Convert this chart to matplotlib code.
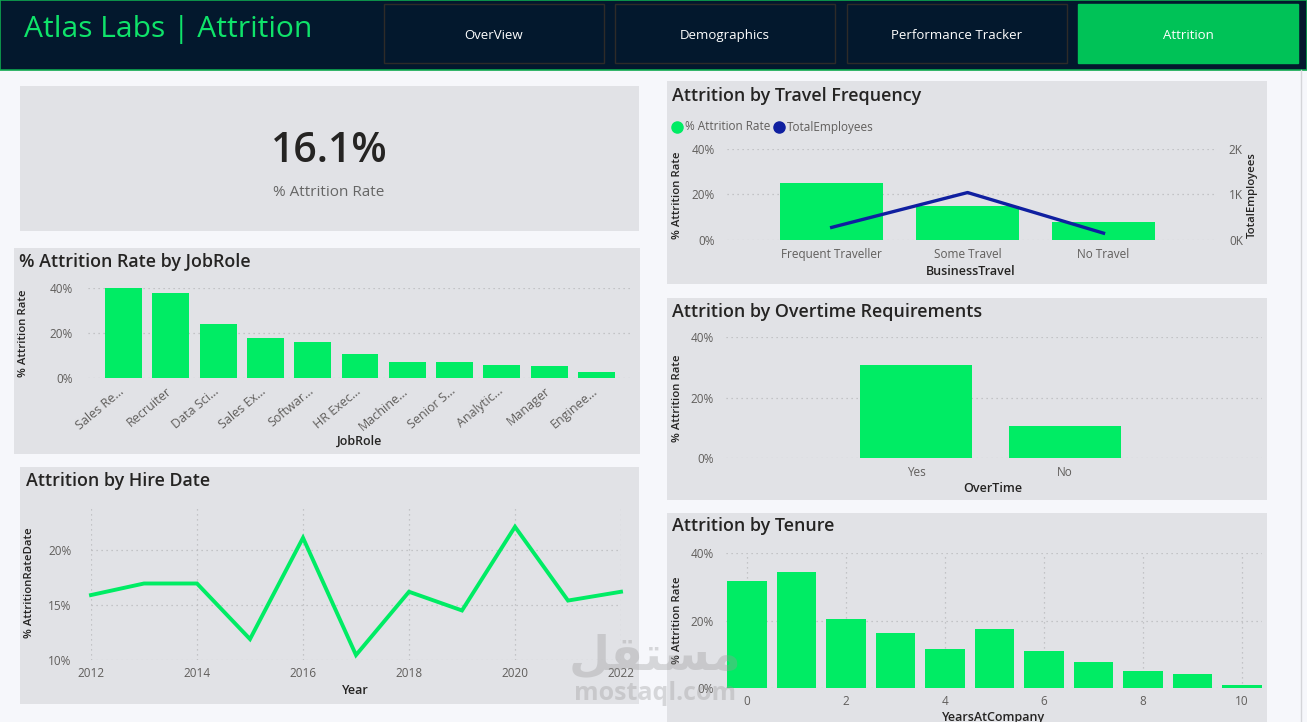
import matplotlib
matplotlib.use("Agg")
import matplotlib.pyplot as plt
import matplotlib.transforms as mtrans
from matplotlib.patches import Rectangle
from matplotlib.lines import Line2D
from matplotlib.ticker import FuncFormatter

plt.rcParams["font.family"] = ["Open Sans", "DejaVu Sans"]

# ---- data ----
kpi_value = "16.1%"

job_roles = ["Sales Re...", "Recruiter", "Data Sci...", "Sales Ex...", "Softwar...", "HR Exec...",
             "Machine...", "Senior S...", "Analytic...", "Manager", "Enginee..."]
job_rate = [40.0, 37.6, 23.9, 17.6, 16.1, 10.8, 6.9, 6.9, 5.8, 5.5, 2.7]

hire_years = [2012, 2013, 2014, 2015, 2016, 2017, 2018, 2019, 2020, 2021, 2022]
hire_rate = [15.9, 16.95, 16.95, 11.9, 21.1, 10.45, 16.2, 14.5, 22.1, 15.4, 16.2]

travel_cats = ["Frequent Traveller", "Some Travel", "No Travel"]
travel_rate = [24.9, 15.0, 8.0]
travel_emp = [277, 1043, 150]

overtime_cats = ["Yes", "No"]
overtime_rate = [30.7, 10.5]

tenure_years = [0, 1, 2, 3, 4, 5, 6, 7, 8, 9, 10]
tenure_rate = [31.7, 34.5, 20.3, 16.4, 11.7, 17.6, 11.0, 7.6, 5.1, 4.2, 0.8]

nav_buttons = ["OverView", "Demographics", "Performance Tracker", "Attrition"]

# ---- colours ----
GREEN = "#00EC64"
NAVY = "#0F1FA0"
HEADER = "#03182D"
PAGE = "#F6F7FB"
PANEL = "#E1E2E6"
TICK = "#605E5C"
DARK = "#252423"
TITLE_FS = 12.9

W, H = 1307, 722
fig = plt.figure(figsize=(W / 100, H / 100), dpi=100, facecolor=PAGE)


def box(x0, y0, x1, y1):
    return [x0 / W, 1 - y1 / H, (x1 - x0) / W, (y1 - y0) / H]


def fx(x):
    return x / W


def fy(y):
    return 1 - y / H


def panel(x0, y0, x1, y1, color=PANEL, edge="none", lw=0):
    fig.add_artist(Rectangle((fx(x0), fy(y1)), (x1 - x0) / W, (y1 - y0) / H,
                             transform=fig.transFigure, facecolor=color,
                             edgecolor=edge, linewidth=lw, zorder=0))


def style(ax, grid_y=True, grid_x=False, ypad=9):
    ax.set_facecolor("none")
    for s in ax.spines.values():
        s.set_visible(False)
    ax.tick_params(length=0, colors=TICK, labelsize=8.5)
    ax.tick_params(axis="y", pad=ypad)
    if grid_y:
        ax.yaxis.grid(True, linestyle=(0, (1, 3)), color="#B9B9BC", linewidth=0.9)
    if grid_x:
        ax.xaxis.grid(True, linestyle=(0, (1, 3)), color="#B9B9BC", linewidth=0.9)
    ax.set_axisbelow(True)


def ylabel(x, y, text):
    fig.text(fx(x), fy(y), text, rotation=90, fontsize=8.2, fontweight="semibold",
             color=DARK, ha="center", va="center")


def xlabel(x, y, text):
    fig.text(fx(x), fy(y), text, fontsize=9, fontweight="semibold", color=DARK,
             ha="center", va="center")


def title(x, y, text):
    fig.text(fx(x), fy(y), text, fontsize=TITLE_FS, fontweight="semibold",
             color=DARK, va="center")


pct = FuncFormatter(lambda v, p: f"{v:.0f}%")

# ---- header ----
panel(0, 0, W, 70, color=HEADER, edge="#0FA84F", lw=1.2)
fig.text(fx(24), fy(29), "Atlas Labs | Attrition", color="#0FE36A", fontsize=21.6,
         va="center", ha="left")
btn_x = [384, 615, 847, 1078]
for bx, name in zip(btn_x, nav_buttons):
    active = name == "Attrition"
    panel(bx, 4, bx + 220, 63, color="#00C257" if active else HEADER,
          edge="#00C257" if active else "#2E2B28", lw=1)
    fig.text(fx(bx + 110), fy(35.5), name, color="white", fontsize=9.5,
             ha="center", va="center")
fig.add_artist(Line2D([fx(1301), fx(1301)], [fy(70), 0], transform=fig.transFigure,
                      color="#D4D5D9", linewidth=1))

# ---- KPI card ----
panel(20, 86, 639, 231)
fig.text(fx(329), fy(151), kpi_value, fontsize=29.5, fontweight="semibold", color=DARK,
         ha="center", va="center")
fig.text(fx(329), fy(192), "% Attrition Rate", fontsize=11, color="#666666",
         ha="center", va="center")

# ---- JobRole ----
panel(14, 248, 640, 454)
title(19, 262, "% Attrition Rate by JobRole")
ax = fig.add_axes(box(88, 288, 630, 378))
style(ax, ypad=11)
xs = list(range(len(job_roles)))
ax.bar(xs, job_rate, width=0.78, color=GREEN, clip_on=False)
ax.set_xlim(-0.75, 10.71)
ax.set_ylim(0, 40)
ax.set_yticks([0, 20, 40])
ax.yaxis.set_major_formatter(pct)
ax.set_xticks(xs)
ax.set_xticklabels(job_roles, rotation=40, ha="right", rotation_mode="anchor",
                   fontsize=9)
ax.tick_params(axis="x", pad=4)
shift = mtrans.ScaledTranslation(-5 / 100, -1 / 100, fig.dpi_scale_trans)
for lab in ax.get_xticklabels():
    lab.set_transform(lab.get_transform() + shift)
ylabel(24, 333, "% Attrition Rate")
xlabel(360, 441, "JobRole")

# ---- Hire date ----
panel(20, 467, 639, 704)
title(26, 481, "Attrition by Hire Date")
ax = fig.add_axes(box(91, 507, 621, 660))
style(ax, grid_y=True, grid_x=True, ypad=14)
ax.plot(hire_years, hire_rate, color=GREEN, linewidth=2.8, clip_on=False,
        solid_joinstyle="miter")
ax.set_xlim(2012, 2022)
ax.set_ylim(10, 23.9)
ax.set_yticks([10, 15, 20])
ax.yaxis.set_major_formatter(pct)
ax.set_xticks([2012, 2014, 2016, 2018, 2020, 2022])
ax.tick_params(axis="x", pad=5)
ylabel(30, 583, "% AttritionRateDate")
xlabel(355, 691, "Year")

# ---- Travel frequency ----
panel(667, 81, 1267, 284)
title(672, 96, "Attrition by Travel Frequency")
for mx, col, lab in [(677, GREEN, "% Attrition Rate"), (779, NAVY, "TotalEmployees")]:
    fig.add_artist(Line2D([fx(mx)], [fy(127)], marker="o", markersize=8, color=col,
                          transform=fig.transFigure))
    fig.text(fx(mx + 8), fy(127), lab, fontsize=8.5, color=TICK, va="center")
ax = fig.add_axes(box(727, 149, 1215, 240))
style(ax)
xs = list(range(len(travel_cats)))
ax.bar(xs, travel_rate, width=0.76, color=GREEN)
ax.set_xlim(-0.77, 2.82)
ax.set_ylim(0, 40)
ax.set_yticks([0, 20, 40])
ax.yaxis.set_major_formatter(pct)
ax.set_xticks(xs)
ax.set_xticklabels(travel_cats)
ax.tick_params(axis="x", pad=6)
ax2 = ax.twinx()
for s in ax2.spines.values():
    s.set_visible(False)
ax2.plot(xs, travel_emp, color=NAVY, linewidth=2.4)
ax2.set_ylim(0, 2000)
ax2.set_yticks([0, 1000, 2000])
ax2.yaxis.set_major_formatter(FuncFormatter(lambda v, p: f"{v / 1000:.0f}K"))
ax2.tick_params(length=0, colors=TICK, labelsize=8.5, pad=10)
ylabel(677, 195, "% Attrition Rate")
ylabel(1252, 195, "TotalEmployees")
xlabel(971, 271, "BusinessTravel")

# ---- Overtime ----
panel(667, 298, 1267, 500)
title(672, 312, "Attrition by Overtime Requirements")
ax = fig.add_axes(box(726, 337, 1262, 458))
style(ax)
xs = list(range(len(overtime_cats)))
ax.bar(xs, overtime_rate, width=0.75, color=GREEN)
ax.set_xlim(-1.275, 2.32)
ax.set_ylim(0, 40)
ax.set_yticks([0, 20, 40])
ax.yaxis.set_major_formatter(pct)
ax.set_xticks(xs)
ax.set_xticklabels(overtime_cats)
ax.tick_params(axis="x", pad=6)
ylabel(677, 398, "% Attrition Rate")
xlabel(993, 488, "OverTime")

# ---- Tenure ----
panel(667, 513, 1267, 730)
title(672, 526, "Attrition by Tenure")
ax = fig.add_axes(box(726, 553, 1262, 688))
style(ax, grid_y=True, grid_x=True)
ax.bar(tenure_years, tenure_rate, width=0.8, color=GREEN)
ax.set_xlim(-0.42, 10.4)
ax.set_ylim(0, 40)
ax.set_yticks([0, 20, 40])
ax.yaxis.set_major_formatter(pct)
ax.set_xticks([0, 2, 4, 6, 8, 10])
ax.tick_params(axis="x", pad=5)
ylabel(677, 620, "% Attrition Rate")
xlabel(994, 718, "YearsAtCompany")

# ---- watermark ----
fig.text(fx(655), fy(657), "\uFEDE\uFED8\uFE98\uFEB4\uFEE3", fontsize=34,
         family=["DejaVu Sans"], color="#9A9A9A", alpha=0.35, ha="center",
         va="center", fontweight="bold", zorder=10)
fig.text(fx(655), fy(694), "mostaql.com", fontsize=18, color="#9A9A9A", alpha=0.35,
         ha="center", va="center", fontweight="bold", zorder=10)

fig.savefig("out.png", dpi=100, facecolor=PAGE)
